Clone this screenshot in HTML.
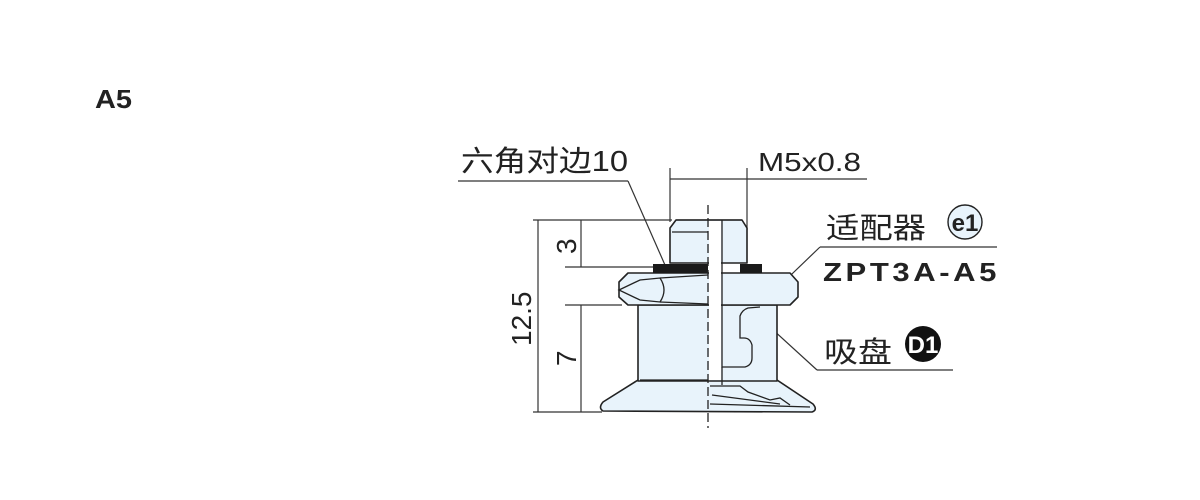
<!DOCTYPE html>
<html><head><meta charset="utf-8"><style>
html,body{margin:0;padding:0;background:#fff;width:1200px;height:500px;overflow:hidden}
svg{display:block}
text{fill:#222}
</style></head><body>
<svg width="1200" height="500" viewBox="0 0 1200 500" xmlns="http://www.w3.org/2000/svg">
<text x="95" y="108" font-family="Liberation Sans, sans-serif" font-weight="bold" font-size="26" textLength="37" lengthAdjust="spacingAndGlyphs">A5</text>

<g stroke="#333" stroke-width="1.2" fill="none">
  <line x1="533" y1="220" x2="672" y2="220"/>
  <line x1="533" y1="412" x2="602" y2="412"/>
  <line x1="538" y1="220" x2="538" y2="412"/>
  <line x1="565" y1="267" x2="655" y2="267"/>
  <line x1="565" y1="305" x2="622" y2="305"/>
  <line x1="581" y1="220" x2="581" y2="267"/>
  <line x1="581" y1="305" x2="581" y2="412"/>
  <line x1="670" y1="168" x2="670" y2="222"/>
  <line x1="747" y1="168" x2="747" y2="230"/>
  <line x1="670" y1="179" x2="867" y2="179"/>
  <line x1="458" y1="181" x2="628" y2="181"/>
  <line x1="628" y1="181" x2="676" y2="290"/>
  <line x1="820" y1="247" x2="997" y2="247"/>
  <line x1="820" y1="247" x2="768" y2="297"/>
  <line x1="817" y1="370" x2="953" y2="370"/>
  <line x1="817" y1="370" x2="760" y2="318"/>
</g>

<g stroke="#222" stroke-width="1.6" fill="#e8f3fb" stroke-linejoin="round">
  <path d="M638 380 L603 402 Q598 408 603 411 L812 412 Q818 410 813 404 L777 380 Z"/>
  <rect x="638" y="305" width="139" height="76"/>
  <path d="M628 273 L790 273 L798 282 L798 297 L790 305 L628 305 L619 297 L619 282 Z"/>
  <path d="M676 220 L742 220 L747 228 L747 263 L670 263 L670 228 Z"/>
</g>
<rect x="709" y="221" width="12" height="159" fill="#fff"/>
<g stroke="#222" stroke-width="1.3" fill="none">
  <path d="M660 278 L708 275"/>
  <path d="M660 302 L708 304"/>
  <path d="M619 290 L640 280 L660 278 Q668 290 660 302 L640 300 Z"/>
  <line x1="672" y1="232" x2="708" y2="232"/>
  <line x1="640" y1="380" x2="708" y2="380"/>
  <path d="M722 220 L722 367 L745 367 Q752 365 752 358 L752 345 Q750 338 744 338 L740 338 L740 316 Q742 310 748 308 L760 307"/>
  <path d="M722 367 L722 385"/>
  <path d="M710 386 L740 386 L748 392 L770 400 L780 398 L790 405"/>
  <path d="M712 395 L780 404"/>
  <path d="M710 404 L810 407"/>
  <line x1="676" y1="220" x2="742" y2="220"/>
</g>
<rect x="653" y="264" width="55" height="9" fill="#1a1a1a"/>
<rect x="740" y="264" width="22" height="9" fill="#1a1a1a"/>
<line x1="708" y1="205" x2="708" y2="428" stroke="#222" stroke-width="1.3" stroke-dasharray="9,4"/>

<g font-family="Liberation Sans, sans-serif" font-size="28" fill="#222">
  <text transform="translate(531,346) rotate(-90)">12.5</text>
  <text transform="translate(576,254) rotate(-90)">3</text>
  <text transform="translate(576,366) rotate(-90)">7</text>
  <text x="758" y="171" font-size="26" textLength="103" lengthAdjust="spacingAndGlyphs">M5x0.8</text>
</g>
<g font-family="Liberation Sans, 'Noto Sans CJK SC', sans-serif" font-size="29" fill="#222">
  <text x="461" y="171" textLength="167" lengthAdjust="spacingAndGlyphs">六角对边10</text>
  <text x="826" y="238" textLength="100" lengthAdjust="spacingAndGlyphs">适配器</text>
  <text x="824" y="362" textLength="68" lengthAdjust="spacingAndGlyphs">吸盘</text>
</g>
<text x="823" y="281" font-family="Liberation Sans, sans-serif" font-weight="bold" font-size="26" textLength="177" lengthAdjust="spacingAndGlyphs" letter-spacing="3">ZPT3A-A5</text>
<circle cx="965" cy="222" r="17" fill="#e8f3fb" stroke="#222" stroke-width="1.4"/>
<text x="965" y="231" text-anchor="middle" font-family="Liberation Sans, sans-serif" font-weight="bold" font-size="24">e1</text>
<circle cx="923" cy="344" r="18" fill="#111"/>
<text x="923" y="353" text-anchor="middle" font-family="Liberation Sans, sans-serif" font-weight="bold" font-size="24" style="fill:#fff">D1</text>
</svg>
</body></html>
